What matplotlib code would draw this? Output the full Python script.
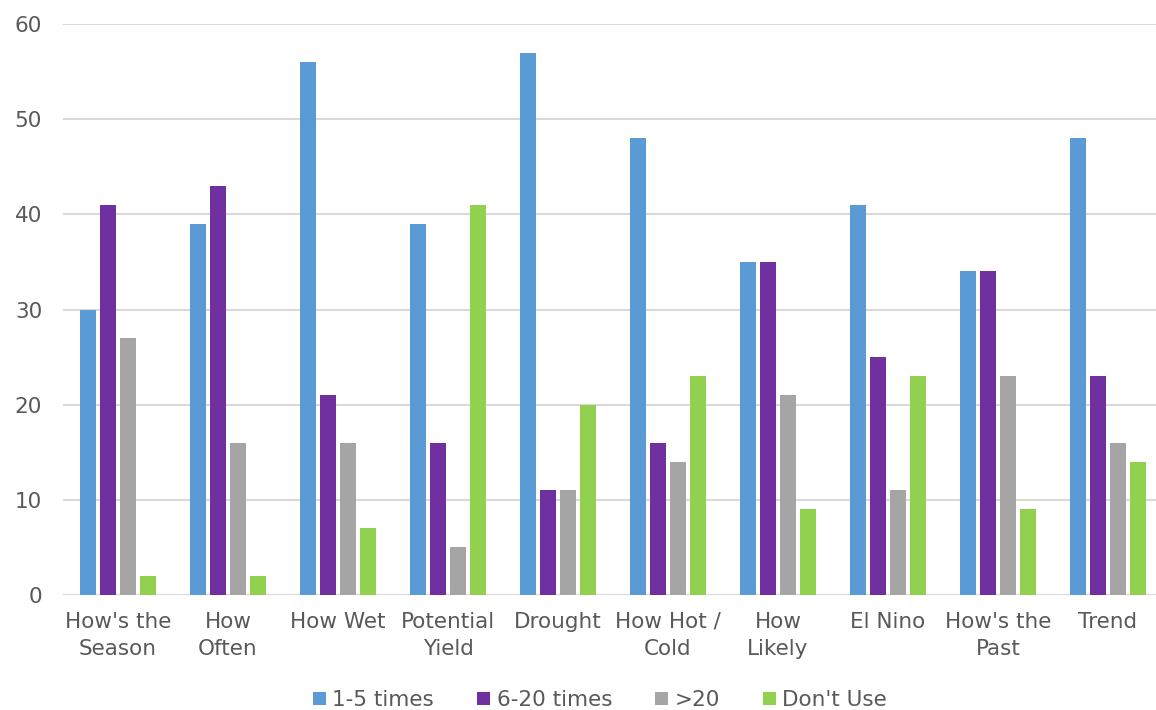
import matplotlib
matplotlib.use('Agg')
import matplotlib.pyplot as plt
import numpy as np

categories = ["How's the\nSeason", "How\nOften", "How Wet", "Potential\nYield", "Drought",
              "How Hot /\nCold", "How\nLikely", "El Nino", "How's the\nPast", "Trend"]
series_names = ["1-5 times", "6-20 times", ">20", "Don't Use"]
times_1_5 = [30, 39, 56, 39, 57, 48, 35, 41, 34, 48]
times_6_20 = [41, 43, 21, 16, 11, 16, 35, 25, 34, 23]
over_20 = [27, 16, 16, 5, 11, 14, 21, 11, 23, 16]
dont_use = [2, 2, 7, 41, 20, 23, 9, 23, 9, 14]
colors = ["#5B9BD5", "#7030A0", "#A5A5A5", "#92D050"]

txt = "#595959"
plt.rcParams['font.family'] = ['DejaVu Sans']

fig = plt.figure(figsize=(11.56, 7.10), dpi=100)
ax = fig.add_axes([63 / 1156, 115 / 710, 1100 / 1156, 571 / 710])

x = np.arange(len(categories))
step = 0.182
width = 0.142
for i, (vals, name) in enumerate(zip([times_1_5, times_6_20, over_20, dont_use], series_names)):
    ax.bar(x + (i - 1.5) * step, vals, width, color=colors[i], label=name, zorder=3)

ax.set_xlim(-0.5, len(categories) - 0.5)
ax.set_ylim(0, 60)
ax.set_yticks(range(0, 61, 10))
ax.yaxis.grid(True, color="#D9D9D9", linewidth=1.5, zorder=0)
ax.set_axisbelow(True)
for s in ax.spines.values():
    s.set_visible(False)
ax.tick_params(axis='both', length=0, labelsize=15.5, colors=txt)
ax.tick_params(axis='x', pad=12)
ax.tick_params(axis='y', pad=15)
ax.set_xticks(x)
ax.set_xticklabels(categories, linespacing=1.45)

fig.legend(loc='center', bbox_to_anchor=(600 / 1156, 1 - 700 / 710), ncol=4, frameon=False,
           fontsize=15.5, labelcolor=txt, handlelength=0.6, handleheight=0.6,
           handletextpad=0.3, columnspacing=2.0)

fig.savefig("out.png", dpi=100)
